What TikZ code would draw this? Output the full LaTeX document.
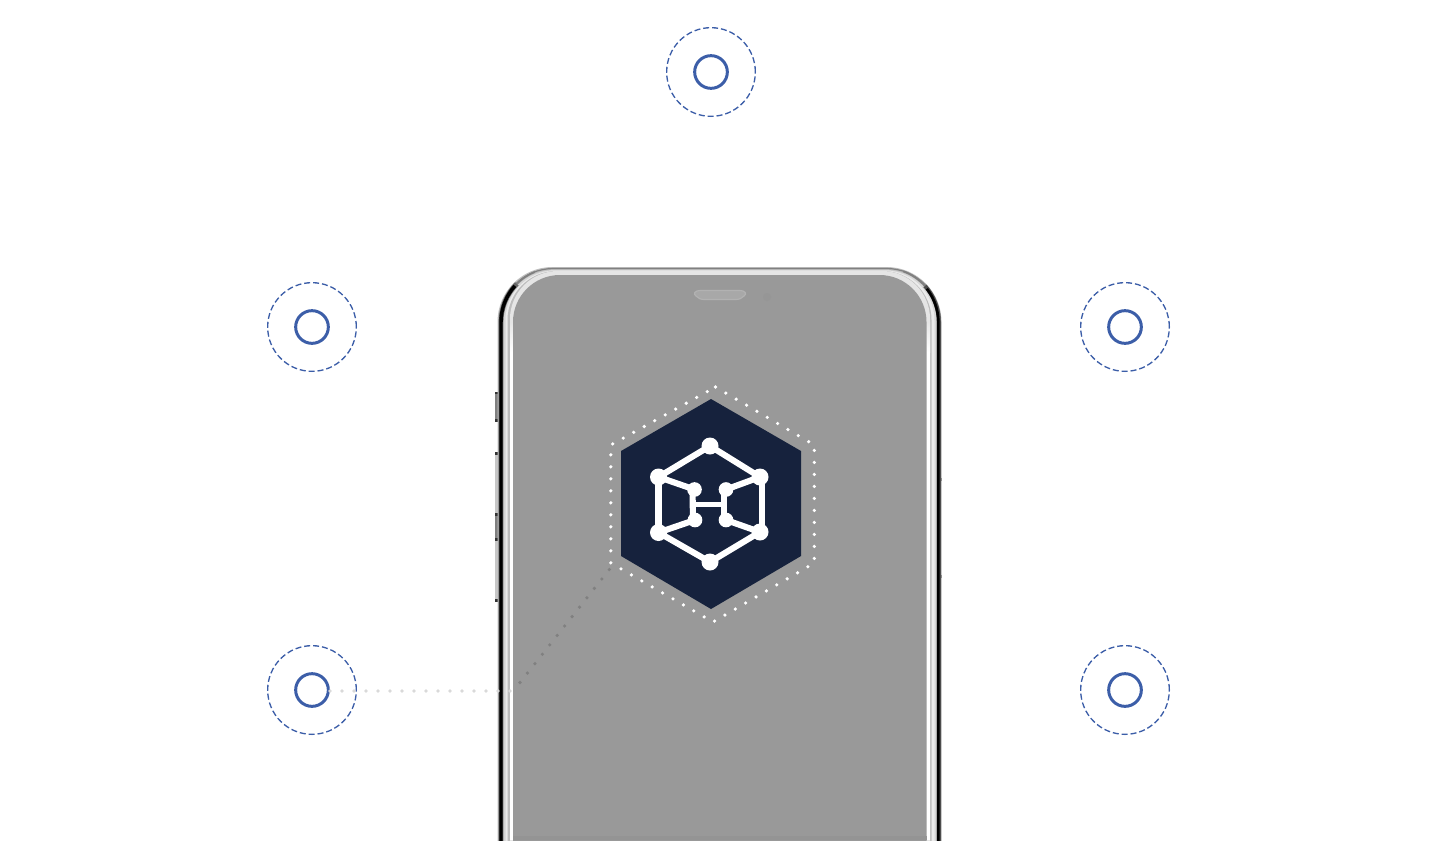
\documentclass[tikz,border=0pt]{standalone}
\usetikzlibrary{calc}
\definecolor{ringblue}{HTML}{3C5EA8}
\definecolor{hexnavy}{HTML}{16223D}
\definecolor{screengray}{HTML}{999999}
% shell: left, right, top, radius (open at the bottom, below the page)
\newcommand{\shell}[4]{(#1,900) -- (#1,#3+#4) arc[start angle=180,end angle=270,radius=#4] -- (#2-#4,#3) arc[start angle=270,end angle=360,radius=#4] -- (#2,900)}
\tikzset{
  x=0.75pt,y=-0.75pt,
  outerring/.style={circle,draw=ringblue,dashed,dash pattern=on 4.5pt off 2.2pt,line width=1pt,minimum size=66.5pt,inner sep=0pt},
  innerring/.style={circle,draw=ringblue,line width=2.25pt,minimum size=24.5pt,inner sep=0pt},
  bigjoint/.style={circle,fill=white,minimum size=12.75pt,inner sep=0pt},
  smalljoint/.style={circle,fill=white,minimum size=11pt,inner sep=0pt},
  logoline/.style={draw=white,line width=4.6pt},
  thinlogoline/.style={draw=white,line width=3.6pt},
  dotline/.style={line cap=round,dash pattern=on 0pt off 9pt,line width=2.7pt},
}
\begin{document}
\begin{tikzpicture}
\useasboundingbox (0,0) rectangle (1434,840);
\begin{scope}
\clip (0,0) rectangle (1434,840);
% side buttons, left
\fill[black!50] (495,393) rectangle (499,420);
\fill[black!22] (495,453) rectangle (499,514);
\fill[black!50] (495,515) rectangle (499,540);
\fill[black!22] (495,540) rectangle (499,601);
\fill[black!80] (495,391.5) rectangle (500,394);
\fill[black!80] (495,419) rectangle (500,421.5);
\fill[black!80] (495,452) rectangle (500,455);
\fill[black!80] (495,513) rectangle (500,516);
\fill[black!80] (495,538) rectangle (500,541);
\fill[black!80] (495,599) rectangle (500,602);
% side notches, right
\fill[black!80] (937,477.5) rectangle (942,481);
\fill[black!80] (937,574.5) rectangle (942,578);
% body layers
\fill[black!25] \shell{497.5}{941.5}{267}{55} -- cycle;
\draw[black!50,line width=0.9pt] \shell{499.5}{940.5}{268.5}{54};
\fill[black!16] \shell{503}{937}{270}{51} -- cycle;
% black edges
\draw[black!60,line width=3.6pt] (501,900) -- (501,322) arc[start angle=180,end angle=225,radius=54];
\draw[black,line width=2.6pt] (501,900) -- (501,322) arc[start angle=180,end angle=222,radius=54];
\draw[black!50,line width=1.4pt] (516.8,283.8) arc[start angle=225,end angle=248,radius=54];
\draw[black!70,line width=3pt] (938.8,900) -- (938.8,322) arc[start angle=360,end angle=318,radius=54];
\draw[black,line width=2pt] (938.3,900) -- (938.3,322) arc[start angle=360,end angle=322,radius=54];
\draw[black!50,line width=1.4pt] (924.9,285.9) arc[start angle=318,end angle=290,radius=54];
% inner bands
\fill[black!8] \shell{505.5}{934.5}{270.5}{50} -- cycle;
\fill[black!26] \shell{507.5}{931.5}{271}{49} -- cycle;
\fill[black!10] \shell{510}{930}{271}{48} -- cycle;
% bright straight parts of the inner band
\shade[top color=black!10,bottom color=white] (510,322) rectangle (513.5,352);
\fill[white] (510,352) rectangle (513.5,840);
\shade[top color=black!10,bottom color=white] (926,322) rectangle (930,352);
\fill[white] (926,352) rectangle (930,840);
\fill[screengray] \shell{513}{926.5}{275}{47} -- cycle;
\fill[black!42] (513,835.5) rectangle (926.5,840);
% speaker and camera
\draw[black!30,line width=0.9pt,fill=black!34,line join=round] (701,290.5) -- (739,290.5) .. controls (746,290.5) and (747,294) .. (744,296) .. controls (742,298.5) and (739,299.5) .. (735,299.5) -- (705,299.5) .. controls (701,299.5) and (698,298.5) .. (696,296) .. controls (693,294) and (694,290.5) .. (701,290.5) -- cycle;
\fill[black!41] (767,297) circle[radius=4];
% hexagons
\fill[hexnavy] (711,399) -- (801,451) -- (801,556) -- (711,609) -- (621,556) -- (621,451) -- cycle;
\draw[white,dotline] (715.5,387) -- (814.3,445) -- (814.3,563) -- (713,622) -- (610.8,563) -- (610.8,445) -- cycle;
% logo joints
\node[bigjoint] (jt) at (710,446) {};
\node[bigjoint] (jul) at (658.5,477) {};
\node[bigjoint] (jur) at (760,477) {};
\node[bigjoint] (jll) at (658.5,532.5) {};
\node[bigjoint] (jlr) at (760,532) {};
\node[bigjoint] (jb) at (710,562) {};
\node[smalljoint] (iul) at (694.5,489.5) {};
\node[smalljoint] (iur) at (726,489.5) {};
\node[smalljoint] (ill) at (695,520) {};
\node[smalljoint] (ilr) at (726,520) {};
% logo lines
\draw[logoline] (jt.center) -- (jul.center);
\draw[logoline] (jt.center) -- (jur.center);
\draw[logoline] (jb.center) -- (jll.center);
\draw[logoline] (jb.center) -- (jlr.center);
\draw[logoline] (jul.center) -- (jll.center);
\draw[logoline] ($(jur.center)+(2,0)$) -- ($(jlr.center)+(2,0)$);
\draw[logoline] (jul.center) -- (iul.center);
\draw[logoline] (jur.center) -- (iur.center);
\draw[logoline] (jll.center) -- (ill.center);
\draw[logoline] (jlr.center) -- (ilr.center);
\draw[logoline] ($(iul.center)+(-2,0)$) -- ($(ill.center)+(-2,0)$);
\draw[logoline] ($(iur.center)+(-2,0)$) -- ($(ilr.center)+(-2,0)$);
\draw[thinlogoline] ($(iul.center)!0.5!(ill.center)$) -- ($(iur.center)!0.5!(ilr.center)$);
% rings
\node[outerring] (o1) at (711,72) {};
\node[innerring] (i1) at (711,72) {};
\node[outerring] (o2) at (312,327) {};
\node[innerring] (i2) at (312,327) {};
\node[outerring] (o3) at (1125,327) {};
\node[innerring] (i3) at (1125,327) {};
\node[outerring] (o4) at (312,690) {};
\node[innerring] (i4) at (312,690) {};
\node[outerring] (o5) at (1125,690) {};
\node[innerring] (i5) at (1125,690) {};
% dotted connector
\coordinate (bend) at (512,691);
\coordinate (dotstart) at (330,691);
\coordinate (diagstart) at (520,682.5);
\coordinate (hexend) at (610.5,568);
\draw[black!15,dotline] (dotstart) -- (bend);
\draw[black!50,dotline] (diagstart) -- (hexend);
\end{scope}
\end{tikzpicture}
\end{document}
